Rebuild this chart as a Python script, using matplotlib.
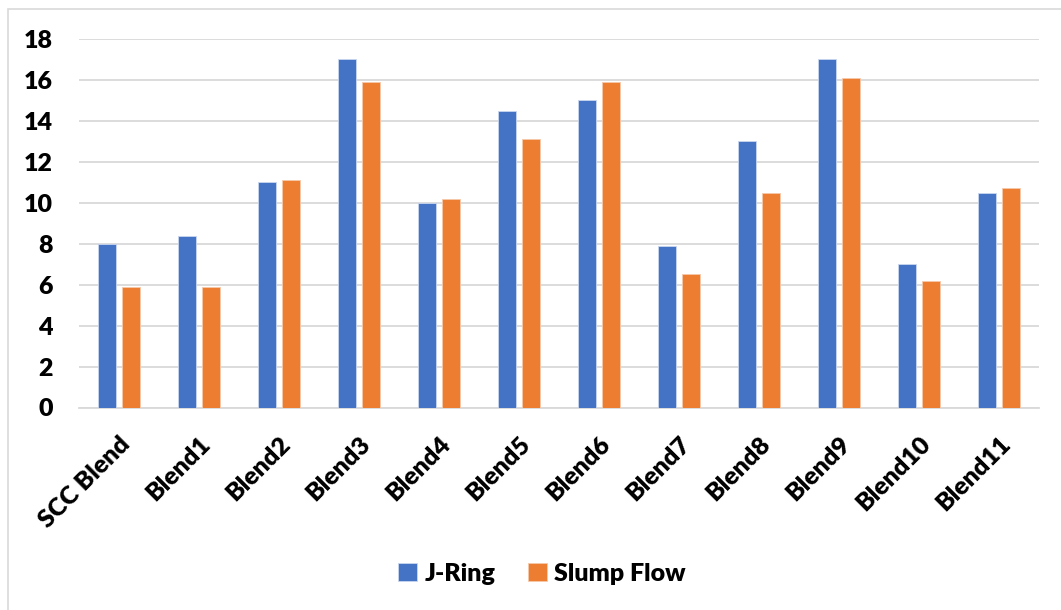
import numpy as np
import matplotlib
matplotlib.use("Agg")
import matplotlib.pyplot as plt
from matplotlib.patches import Rectangle

plt.rcParams["font.family"] = ["Lato", "DejaVu Sans"]
plt.rcParams["font.weight"] = "bold"

blends = ["SCC Blend", "Blend1", "Blend2", "Blend3", "Blend4", "Blend5",
          "Blend6", "Blend7", "Blend8", "Blend9", "Blend10", "Blend11"]
j_ring = [8.0, 8.4, 11.0, 17.0, 10.0, 14.5, 15.0, 7.9, 13.0, 17.0, 7.0, 10.5]
slump_flow = [5.9, 5.9, 11.1, 15.9, 10.2, 13.1, 15.9, 6.5, 10.5, 16.1, 6.2, 10.7]
y_ticks = [0, 2, 4, 6, 8, 10, 12, 14, 16, 18]

blue = "#4472C4"
orange = "#ED7D31"

fig = plt.figure(figsize=(10.61, 6.10), dpi=100)
ax = fig.add_axes([79 / 1061, 1 - 407.5 / 610, 960 / 1061, 368.5 / 610])

# outer chart frame (runs off the right and bottom edges)
fig.patches.append(Rectangle((8 / 1061, -0.05), 1.1, 1 - 9 / 610 + 0.05,
                             transform=fig.transFigure, fill=False,
                             edgecolor="#d9d9d9", linewidth=1.2))

x = np.arange(len(blends))
w = 0.225
off = 0.145
ax.bar(x - off, j_ring, w, color=blue, edgecolor="#c9d6ef", linewidth=0.6,
       label="J-Ring", zorder=3)
ax.bar(x + off, slump_flow, w, color=orange, edgecolor="#f7c9a9", linewidth=0.6,
       label="Slump Flow", zorder=3)

ax.set_xlim(-0.5, len(blends) - 0.5)
ax.set_ylim(0, 18)
ax.set_yticks(y_ticks)
ax.set_yticklabels([str(t) for t in y_ticks], fontsize=18, fontweight="heavy")
ax.yaxis.grid(True, color="#d9d9d9", linewidth=1.3, zorder=0)
ax.tick_params(axis="y", length=0, pad=19)
ax.tick_params(axis="x", length=0, pad=18)
for s in ["top", "right", "left"]:
    ax.spines[s].set_visible(False)
ax.spines["bottom"].set_color("#d9d9d9")
ax.spines["bottom"].set_linewidth(1.3)

ax.set_xticks(x)
ax.set_xticklabels(blends, rotation=45, ha="right", rotation_mode="anchor",
                   fontsize=18, fontweight="heavy")

leg = fig.legend(loc="center", bbox_to_anchor=(542 / 1061, 1 - 574 / 610),
                 ncol=2, frameon=False, prop={"size": 18, "weight": "heavy"},
                 handlelength=0.75, handleheight=0.75, columnspacing=1.3,
                 handletextpad=0.3)

fig.savefig("out.png", dpi=100, facecolor="white")
